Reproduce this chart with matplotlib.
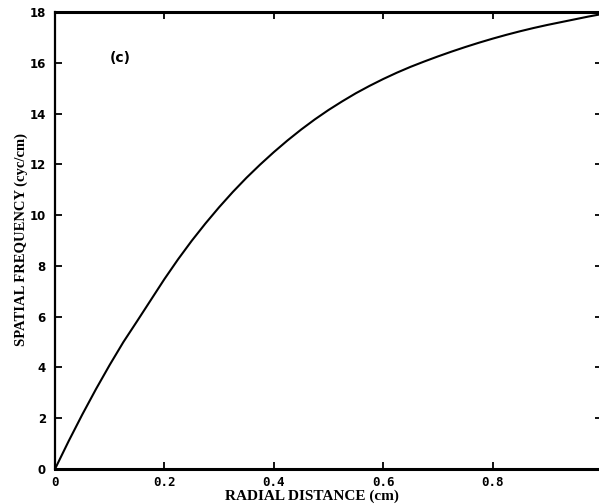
import matplotlib.pyplot as plt
import numpy as np

# radial distance (cm) vs spatial frequency (cyc/cm)
radius = [0.0, 0.025, 0.05, 0.075, 0.1, 0.125, 0.15, 0.175, 0.2, 0.225, 0.25,
          0.275, 0.3, 0.325, 0.35, 0.375, 0.4, 0.425, 0.45, 0.475, 0.5,
          0.525, 0.55, 0.575, 0.6, 0.625, 0.65, 0.675, 0.7, 0.725, 0.75,
          0.775, 0.8, 0.825, 0.85, 0.875, 0.9, 0.925, 0.95, 0.975, 1.0]
freq = [0.0, 1.1, 2.15, 3.15, 4.1, 5.0, 5.82, 6.65, 7.48, 8.26, 8.99,
        9.67, 10.31, 10.91, 11.47, 11.99, 12.48, 12.94, 13.37, 13.77, 14.14,
        14.48, 14.8, 15.09, 15.36, 15.61, 15.84, 16.05, 16.25, 16.44, 16.62,
        16.79, 16.95, 17.1, 17.24, 17.37, 17.49, 17.6, 17.71, 17.82, 17.92]

xticks = [0, 0.2, 0.4, 0.6, 0.8, 1.0]
xtick_labels = ["0", "0.2", "0.4", "0.6", "0.8", "1"]
yticks = [0, 2, 4, 6, 8, 10, 12, 14, 16, 18]

fig = plt.figure(figsize=(5.99, 5.04), dpi=100)
ax = fig.add_axes([55 / 599, 1 - 469 / 504, 547 / 599, 457 / 504])

ax.plot(radius, freq, color="black", linewidth=1.5)

ax.set_xlim(0, 1)
ax.set_ylim(0, 18)

for side, w in [("left", 1.6), ("bottom", 2.2), ("top", 2.2), ("right", 1.6)]:
    ax.spines[side].set_linewidth(w)

ax.set_xticks(xticks)
ax.set_xticklabels(xtick_labels, family="DejaVu Sans Mono", fontweight="bold", fontsize=9)
ax.set_yticks(yticks)
ax.set_yticklabels([str(v) for v in yticks], family="DejaVu Sans", fontweight="bold", fontsize=8.5)
ax.tick_params(axis="both", direction="in", length=5, width=1.3, top=True, right=True)
ax.tick_params(axis="x", pad=5)
ax.tick_params(axis="y", pad=6.5)

ax.text(0.1, 16.2, "(c)", fontsize=10, fontweight="bold", family="DejaVu Sans", va="center")

fig.text(312 / 599, 1 - 496 / 504, "RADIAL DISTANCE (cm)", family="Liberation Serif",
         fontweight="bold", fontsize=11, ha="center", va="center")
fig.text(21 / 599, 1 - 239 / 504, "SPATIAL FREQUENCY (cyc/cm)", family="Liberation Serif",
         fontweight="bold", fontsize=10.5, ha="center", va="center", rotation=90)

fig.savefig("out.png", dpi=100)
